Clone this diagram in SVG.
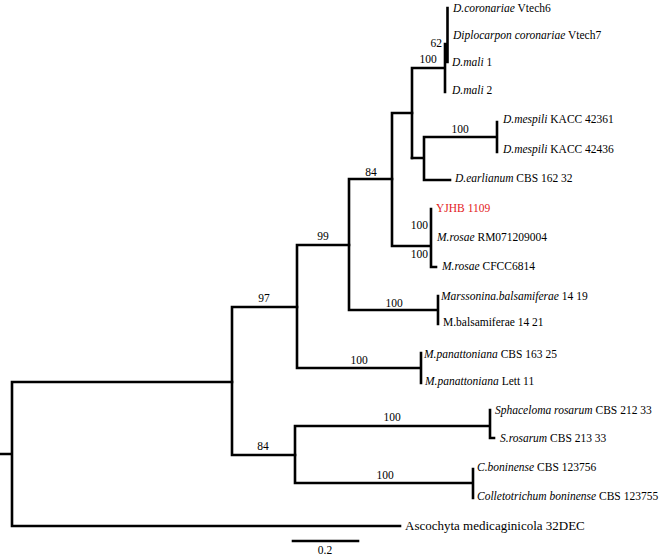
<svg xmlns="http://www.w3.org/2000/svg" width="661" height="557" viewBox="0 0 661 557">
<style>
  .br { stroke: #000; stroke-width: 2.6; fill: none; stroke-linecap: square; }
  text { font-family: "Liberation Serif", "Times New Roman", serif; font-size: 11.5px; fill: #000; }
  .i { font-style: italic; }
  .bs { text-anchor: middle; }
  .bsr { text-anchor: end; }
  .red { fill: #e3211c; }
</style>
<rect width="661" height="557" fill="#fff"/>
<g id="connectors">
  <path class="br" d="M0,454 H12 M12,382 V526 M12,382 H232 M12,526 H400"/>
  <path class="br" d="M232,307 V455 M232,307 H297 M232,455 H295"/>
  <path class="br" d="M297,245 V368 M297,245 H349 M297,368 H421 M421,353 V383"/>
  <path class="br" d="M349,179 V310 M349,179 H392 M349,310 H438 M438,296 V324"/>
  <path class="br" d="M392,113 V246 M392,113 H412 M392,246 H431 M431,209 V267 H436"/>
  <path class="br" d="M412,68 V158 M412,68 H445 M445,44 V92 M447.5,8 V62"/>
  <path class="br" d="M412,158 H424 M424,137 V180 M424,137 H497 M497,122 V152 M424,180 H450"/>
  <path class="br" d="M295,426 V483 M295,426 H490 M490,410 V438 H494 M295,483 H473 M473,469 V498"/>
  <path class="br" d="M293,541 H358"/>
</g>
<g id="bootstrap">
  <text class="bsr" x="442" y="47">62</text>
  <text class="bs" x="428" y="63">100</text>
  <text class="bs" x="460" y="133">100</text>
  <text class="bs" x="371" y="176">84</text>
  <text class="bsr" x="428" y="229">100</text>
  <text class="bsr" x="428" y="258">100</text>
  <text class="bs" x="323" y="240">99</text>
  <text class="bs" x="394" y="307">100</text>
  <text class="bs" x="264" y="302">97</text>
  <text class="bs" x="359" y="364">100</text>
  <text class="bs" x="392" y="421">100</text>
  <text class="bs" x="385" y="479">100</text>
  <text class="bs" x="263" y="450">84</text>
</g>
<g id="tip-vtech6"><text x="453" y="12"><tspan class="i">D.coronariae</tspan> Vtech6</text></g>
<g id="tip-vtech7"><text x="453" y="39"><tspan class="i">Diplocarpon coronariae</tspan> Vtech7</text></g>
<g id="tip-mali1"><text x="452" y="66"><tspan class="i">D.mali</tspan> 1</text></g>
<g id="tip-mali2"><text x="452" y="94"><tspan class="i">D.mali</tspan> 2</text></g>
<g id="tip-mespili1"><text x="503" y="123"><tspan class="i">D.mespili</tspan> KACC 42361</text></g>
<g id="tip-mespili2"><text x="503" y="153"><tspan class="i">D.mespili</tspan> KACC 42436</text></g>
<g id="tip-earlianum"><text x="455" y="182"><tspan class="i">D.earlianum</tspan> CBS 162 32</text></g>
<g id="tip-yjhb"><text class="red" x="436" y="212">YJHB 1109</text></g>
<g id="tip-rosae1"><text x="437" y="241"><tspan class="i">M.rosae</tspan> RM071209004</text></g>
<g id="tip-rosae2"><text x="442" y="270"><tspan class="i">M.rosae</tspan> CFCC6814</text></g>
<g id="tip-balsam1"><text x="441" y="300"><tspan class="i">Marssonina.balsamiferae</tspan> 14 19</text></g>
<g id="tip-balsam2"><text x="443" y="326">M.balsamiferae 14 21</text></g>
<g id="tip-panatt1"><text x="424" y="358"><tspan class="i">M.panattoniana</tspan> CBS 163 25</text></g>
<g id="tip-panatt2"><text x="425" y="385"><tspan class="i">M.panattoniana</tspan> Lett 11</text></g>
<g id="tip-sphac1"><text x="495" y="414"><tspan class="i">Sphaceloma rosarum</tspan> CBS 212 33</text></g>
<g id="tip-sphac2"><text x="500" y="442"><tspan class="i">S.rosarum</tspan> CBS 213 33</text></g>
<g id="tip-colle1"><text x="477" y="471"><tspan class="i">C.boninense</tspan> CBS 123756</text></g>
<g id="tip-colle2"><text x="477" y="500"><tspan class="i">Colletotrichum boninense</tspan> CBS 123755</text></g>
<g id="tip-ascochyta"><text x="405" y="530" style="font-size:13px">Ascochyta medicaginicola 32DEC</text></g>
<g id="scale"><text class="bs" x="325" y="554">0.2</text></g>
</svg>
